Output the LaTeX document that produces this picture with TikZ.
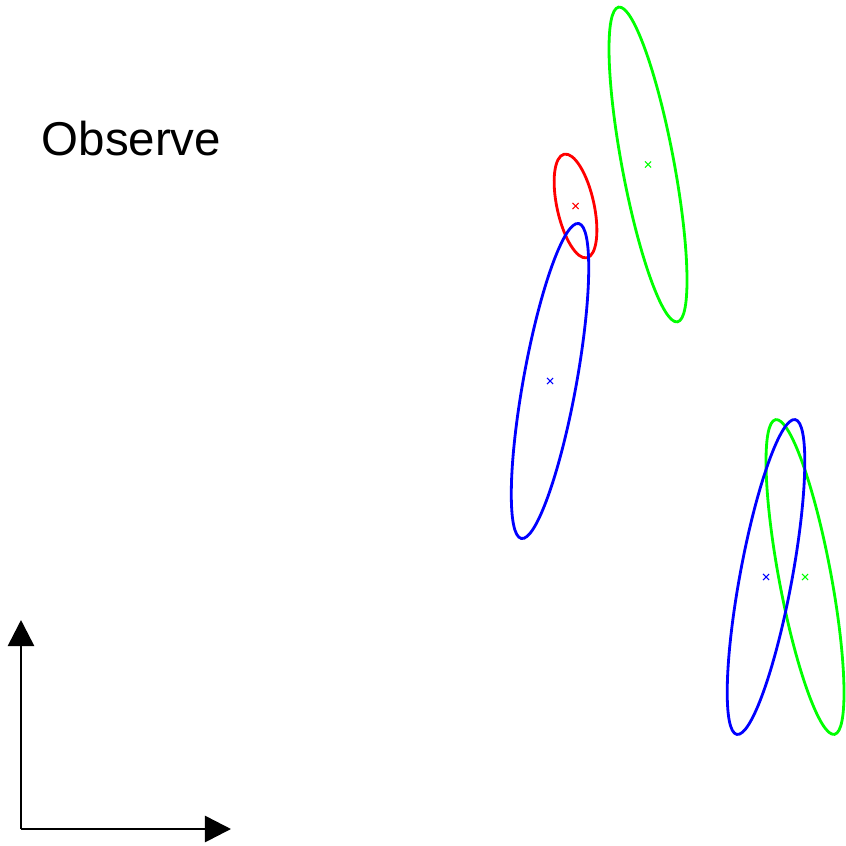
\documentclass[tikz,border=0pt]{standalone}
\usepackage{fontspec}
\setmainfont{Liberation Sans}
\usetikzlibrary{arrows.meta,shapes.misc}
\tikzset{
  axisline/.style={line width=0.75pt,-{Triangle[length=0.26cm,width=0.26cm]}},
  ell/.style={line width=0.8pt},
  mid/.style={cross out,draw,inner sep=0pt,minimum size=0.05cm,line width=0.3pt}
}
\begin{document}
\begin{tikzpicture}[x=0.01cm,y=0.01cm]
    \useasboundingbox (0,0) rectangle (846,845);
    \node[anchor=base west,inner sep=0pt,font=\fontsize{13.5}{16}\selectfont] (title) at (41,689) {Observe};
    \coordinate (O) at (21,16);
    \coordinate (ytip) at (21,225);
    \coordinate (xtip) at (231,16);
    \draw[axisline] (O)--(ytip);
    \draw[axisline] (O)--(xtip);
    \node[mid,red] (cR) at (575.5,639) {};
    \node[mid,green] (cG1) at (648,680.5) {};
    \node[mid,blue] (cB1) at (550,464) {};
    \node[mid,green] (cG2) at (805,268) {};
    \node[mid,blue] (cB2) at (766,268) {};
    \draw[ell,red] (cR.center) ellipse [x radius=0.53cm,y radius=0.185cm,rotate=102.4];
    \draw[ell,green] (cG1.center) ellipse [x radius=1.6cm,y radius=0.26cm,rotate=100.6];
    \draw[ell,blue] (cB1.center) ellipse [x radius=1.6cm,y radius=0.265cm,rotate=79.7];
    \draw[ell,green] (cG2.center) ellipse [x radius=1.6cm,y radius=0.26cm,rotate=100.6];
    \draw[ell,blue] (cB2.center) ellipse [x radius=1.6cm,y radius=0.26cm,rotate=79.5];
\end{tikzpicture}
\end{document}
